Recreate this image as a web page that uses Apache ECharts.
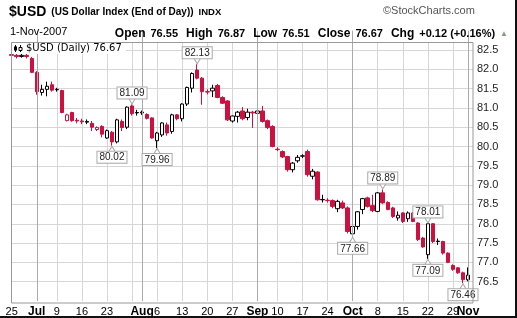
<!DOCTYPE html>
<html><head><meta charset="utf-8">
<script src="https://cdn.jsdelivr.net/npm/echarts@6/dist/echarts.min.js"></script>
<style>html,body{margin:0;padding:0;background:#fff}#c{width:517px;height:318px}</style>
</head><body><div id="c"></div>
<script>
const dates = [
'2007-06-25','2007-06-26','2007-06-27','2007-06-28','2007-06-29',
'2007-07-02','2007-07-03','2007-07-05','2007-07-06','2007-07-09','2007-07-10','2007-07-11','2007-07-12','2007-07-13',
'2007-07-16','2007-07-17','2007-07-18','2007-07-19','2007-07-20','2007-07-23','2007-07-24','2007-07-25','2007-07-26','2007-07-27',
'2007-07-30','2007-07-31','2007-08-01','2007-08-02','2007-08-03','2007-08-06','2007-08-07','2007-08-08','2007-08-09','2007-08-10',
'2007-08-13','2007-08-14','2007-08-15','2007-08-16','2007-08-17','2007-08-20','2007-08-21','2007-08-22','2007-08-23','2007-08-24',
'2007-08-27','2007-08-28','2007-08-29','2007-08-30','2007-08-31','2007-09-04','2007-09-05','2007-09-06','2007-09-07',
'2007-09-10','2007-09-11','2007-09-12','2007-09-13','2007-09-14','2007-09-17','2007-09-18','2007-09-19','2007-09-20','2007-09-21',
'2007-09-24','2007-09-25','2007-09-26','2007-09-27','2007-09-28','2007-10-01','2007-10-02','2007-10-03','2007-10-04','2007-10-05',
'2007-10-08','2007-10-09','2007-10-10','2007-10-11','2007-10-12','2007-10-15','2007-10-16','2007-10-17','2007-10-18','2007-10-19',
'2007-10-22','2007-10-23','2007-10-24','2007-10-25','2007-10-26','2007-10-29','2007-10-30','2007-10-31','2007-11-01'];
const opens = [82.38,82.36,82.33,82.36,82.28,81.92,81.40,81.48,81.60,81.47,81.45,80.67,80.88,80.68,80.66,80.63,80.60,80.44,80.52,80.22,
80.37,80.12,80.65,80.50,81.05,80.88,80.87,80.83,80.74,80.15,80.30,80.56,80.39,80.82,80.72,81.10,81.51,81.98,81.77,81.42,
81.44,81.58,81.27,81.18,80.66,80.78,80.92,80.75,80.89,80.86,80.92,80.67,80.52,79.93,79.87,79.74,79.40,79.63,79.75,79.87,
79.23,79.34,78.63,78.61,78.60,78.39,78.54,78.41,77.74,77.93,78.37,78.67,78.47,78.32,78.80,78.55,78.41,78.15,78.28,78.13,
78.28,78.02,77.63,77.20,78.00,77.55,77.54,77.24,76.92,76.86,76.73,76.55];
const highs = [82.45,82.42,82.42,82.40,82.32,81.95,81.60,81.68,81.68,81.52,81.47,80.85,80.90,80.74,80.72,80.70,80.66,80.52,80.55,80.44,
80.40,80.72,80.70,81.04,81.09,80.95,80.93,80.86,80.76,80.38,80.63,80.62,80.85,80.84,81.12,81.55,81.92,82.13,81.80,81.48,
81.60,81.62,81.30,81.20,80.80,80.92,81.02,80.98,80.92,81.18,81.05,80.70,80.55,79.98,79.90,79.76,79.60,79.78,79.80,79.92,
79.42,79.36,78.75,78.66,78.63,78.62,78.60,78.45,77.95,78.33,78.67,78.70,78.75,78.82,78.89,78.58,78.44,78.32,78.30,78.32,
78.30,78.04,77.66,78.01,78.02,77.62,77.56,77.26,76.95,76.88,76.76,76.87];
const lows = [82.30,82.28,82.30,82.28,81.90,81.34,81.32,81.30,81.42,81.42,80.86,80.65,80.64,80.60,80.58,80.58,80.40,80.40,80.24,80.20,
80.02,80.08,80.40,80.45,80.80,80.80,80.82,80.70,80.20,79.96,80.25,80.28,80.33,80.68,80.65,81.05,81.40,81.74,81.08,81.35,
81.28,81.25,81.10,80.66,80.62,80.62,80.68,80.68,80.48,80.84,80.62,80.45,79.98,79.88,79.70,79.35,79.33,79.58,79.70,79.22,
79.15,78.60,78.55,78.55,78.40,78.30,78.38,77.75,77.66,77.85,78.25,78.42,78.30,78.30,78.52,78.35,78.15,78.08,78.02,78.05,
78.04,77.55,77.38,77.09,77.50,77.45,77.20,76.98,76.78,76.70,76.46,76.51];
const closes = [82.36,82.33,82.36,82.33,81.92,81.42,81.48,81.56,81.46,81.48,80.88,80.82,80.67,80.66,80.64,80.65,80.50,80.49,80.32,80.41,
80.12,80.69,80.49,81.02,80.85,80.87,80.89,80.73,80.22,80.35,80.61,80.35,80.82,80.72,81.10,81.53,81.89,81.77,81.42,81.41,
81.51,81.27,81.12,80.69,80.79,80.89,80.72,80.89,80.87,80.92,80.65,80.49,80.00,79.92,79.73,79.40,79.57,79.72,79.76,79.27,
79.36,78.62,78.62,78.60,78.45,78.58,78.41,77.80,77.93,78.31,78.65,78.45,78.34,78.80,78.54,78.37,78.19,78.22,78.06,78.28,
78.06,77.59,77.40,78.00,77.54,77.54,77.24,77.00,76.82,76.73,76.55,76.67];
const pivotIdx = [37,24,20,29,68,74,83,83,90];
const pivotVals = [82.13,81.09,80.02,79.96,77.66,78.89,78.01,77.09,76.46];
const pivotSide = ['high','high','low','low','low','high','high','low','low'];
const monthNames = ['Jan','Feb','Mar','Apr','May','Jun','Jul','Aug','Sep','Oct','Nov','Dec'];

const RED = '#cc1040', BLK = '#000000';
const d = s => new Date(s + 'T00:00:00Z');
const isMonthStart = i => i === 0 ? false : (i < dates.length && d(dates[i]).getUTCMonth() !== d(dates[i-1]).getUTCMonth());
const isWeekStart = i => i === 0 ? true : (i < dates.length && d(dates[i]).getUTCDay() < d(dates[i-1]).getUTCDay());
const monthSoon = i => isMonthStart(i+1) || isMonthStart(i+2);

const candles = dates.map((dt, i) => {
  const prev = i === 0 ? Infinity : closes[i-1];
  const c = closes[i] < prev ? RED : BLK;
  const fill = closes[i] > opens[i] ? '#ffffff' : c;
  return { value: [opens[i], closes[i], lows[i], highs[i]],
    itemStyle: { color: fill, color0: fill, borderColor: c, borderColor0: c, borderWidth: 1 } };
});
const monthLines = dates.map((dt, i) => i).filter(isMonthStart).map(i => ({ xAxis: dates[i] }));
const pivots = pivotIdx.map((ix, k) => {
  const hi = pivotSide[k] === 'high';
  return {
    coord: [dates[ix], pivotVals[k]], value: pivotVals[k],
    symbol: hi ? 'path://M0,0L3,5L6,0' : 'path://M0,5L3,0L6,5',
    symbolSize: [6, 5], symbolOffset: [0, hi ? -3 : 3], symbolKeepAspect: false,
    label: { position: hi ? 'top' : 'bottom', distance: 0 }
  };
});

const n = dates.length;
const lastD = d(dates[n-1]);
const chg = closes[n-1] - closes[n-2];
const pct = chg / closes[n-2] * 100;
const fmtDate = lastD.getUTCDate() + '-' + monthNames[lastD.getUTCMonth()] + '-' + lastD.getUTCFullYear();
const sgn = v => (v >= 0 ? '+' : '') + v.toFixed(2);
const showLabel = i => isMonthStart(i) || (isWeekStart(i) && !monthSoon(i));

const chart = echarts.init(document.getElementById('c'), null, { renderer: 'canvas' });
const FF = 'Liberation Sans, Arial, sans-serif';
chart.setOption({
  animation: false,
  backgroundColor: '#fff',
  textStyle: { fontFamily: FF },
  title: [
    { left: 9, top: 3, padding: 0, z: 20,
      text: '{a|$USD} {b|(US Dollar Index (End of Day))} {c|INDX}',
      textStyle: { rich: {
        a: { fontSize: 14, fontWeight: 'bold', color: '#000', fontFamily: FF },
        b: { fontSize: 10, color: '#000', fontFamily: FF },
        c: { fontSize: 9.5, color: '#000', fontFamily: FF } } } },
    { left: 383, top: 5, padding: 0, z: 20, text: '\u00a9StockCharts.com',
      textStyle: { fontSize: 11, fontWeight: 'normal', color: '#555', fontFamily: FF } },
    { left: 10, top: 26, padding: 0, z: 20, text: fmtDate,
      textStyle: { fontSize: 11, fontWeight: 'normal', color: '#000', fontFamily: FF } },
    { right: 12, top: 25, padding: 0, z: 20,
      text: '{l|Open} {v|' + opens[n-1].toFixed(2) + '} {l|High} {v|' + highs[n-1].toFixed(2) + '} {l|Low} {v|' + lows[n-1].toFixed(2) +
            '} {l|Close} {v|' + closes[n-1].toFixed(2) + '} {l|Chg} {v|' + sgn(chg) + ' (' + sgn(pct) + '%)} {t|\u25B2}',
      textStyle: { rich: {
        l: { fontSize: 12, fontWeight: 'bold', color: '#000', fontFamily: FF, padding: [0, 0, 0, 3] },
        v: { fontSize: 11, color: '#000', fontFamily: FF },
        t: { fontSize: 8, color: '#8a9a8a', fontFamily: FF } } } }
  ],
  grid: { left: 11.7, right: 44, top: 30.65, bottom: 16.45, containLabel: false },
  xAxis: {
    type: 'category', data: dates, boundaryGap: false, max: n,
    axisLine: { show: false }, axisTick: { show: false },
    splitLine: { show: true, interval: (i) => isWeekStart(i) || isMonthStart(i), lineStyle: { color: '#d6d6d6', width: 1 } },
    axisLabel: {
      margin: 5, fontSize: 11, color: '#000', fontFamily: FF, hideOverlap: false,
      interval: 0,
      formatter: (v, i) => {
        if (!v || !showLabel(i)) return '';
        const dt = d(v);
        if (isMonthStart(i)) return '{m|' + monthNames[dt.getUTCMonth()] + '}';
        return String(dt.getUTCDate());
      },
      rich: { m: { fontSize: 12, fontWeight: 'bold', color: '#000', fontFamily: FF } }
    }
  },
  yAxis: {
    type: 'value', position: 'right', min: 76, max: 83, interval: 0.5, scale: true,
    axisLine: { show: false }, axisTick: { show: false },
    splitLine: { show: true, showMinLine: false, showMaxLine: false, lineStyle: { color: '#d6d6d6', width: 1 } },
    axisLabel: { showMinLabel: false, showMaxLabel: false, margin: 4, fontSize: 11, color: '#222', fontFamily: FF,
      formatter: v => v.toFixed(1) }
  },
  series: [{
    type: 'candlestick', data: candles, barWidth: 4, clip: false,
    markLine: { silent: true, symbol: ['none', 'none'], label: { show: false },
      lineStyle: { color: '#aaaaaa', type: 'solid', width: 1 }, data: monthLines, animation: false },
    markPoint: { silent: true,
      itemStyle: { color: '#ffffff', borderColor: '#aaaaaa', borderWidth: 1 },
      label: { show: true, formatter: p => p.value.toFixed(2), fontSize: 10, color: '#222', fontFamily: FF,
        backgroundColor: '#fff', borderColor: '#aaa', borderWidth: 1, padding: [1, 2, 0, 2] },
      data: pivots }
  }],
  graphic: { elements: [
    { type: 'rect', z: 5, silent: true, shape: { x: 0, y: 0, width: 517, height: 42 }, style: { fill: '#fff' } },
    { type: 'rect', z: 6, silent: true, shape: { x: 11.5, y: 42.5, width: 461.5, height: 260.5 }, style: { fill: 'none', stroke: '#999', lineWidth: 1 } },
    { type: 'rect', z: 6, silent: true, shape: { x: 12, y: 43, width: 114, height: 11 }, style: { fill: '#fff' } },
    { type: 'line', z: 7, silent: true, shape: { x1: 15.5, y1: 45, x2: 15.5, y2: 52 }, style: { stroke: '#000', lineWidth: 1 } },
    { type: 'rect', z: 7, silent: true, shape: { x: 14, y: 46.5, width: 3, height: 4 }, style: { fill: '#000' } },
    { type: 'line', z: 7, silent: true, shape: { x1: 20.5, y1: 45, x2: 20.5, y2: 52 }, style: { stroke: '#000', lineWidth: 1 } },
    { type: 'rect', z: 7, silent: true, shape: { x: 19, y: 47.5, width: 3, height: 3 }, style: { fill: '#fff', stroke: '#000', lineWidth: 1 } },
    { type: 'text', z: 7, silent: true, left: 26, top: 43,
      style: { text: '$USD (Daily) ' + closes[n-1].toFixed(2), font: '10px "DejaVu Sans", sans-serif', fill: '#000' } },
    { type: 'rect', z: 8, silent: true, shape: { x: 0, y: 316, width: 517, height: 2 }, style: { fill: '#111' } },
    { type: 'rect', z: 8, silent: true, shape: { x: 515, y: 0, width: 2, height: 318 }, style: { fill: '#111' } }
  ] }
});
</script></body></html>
